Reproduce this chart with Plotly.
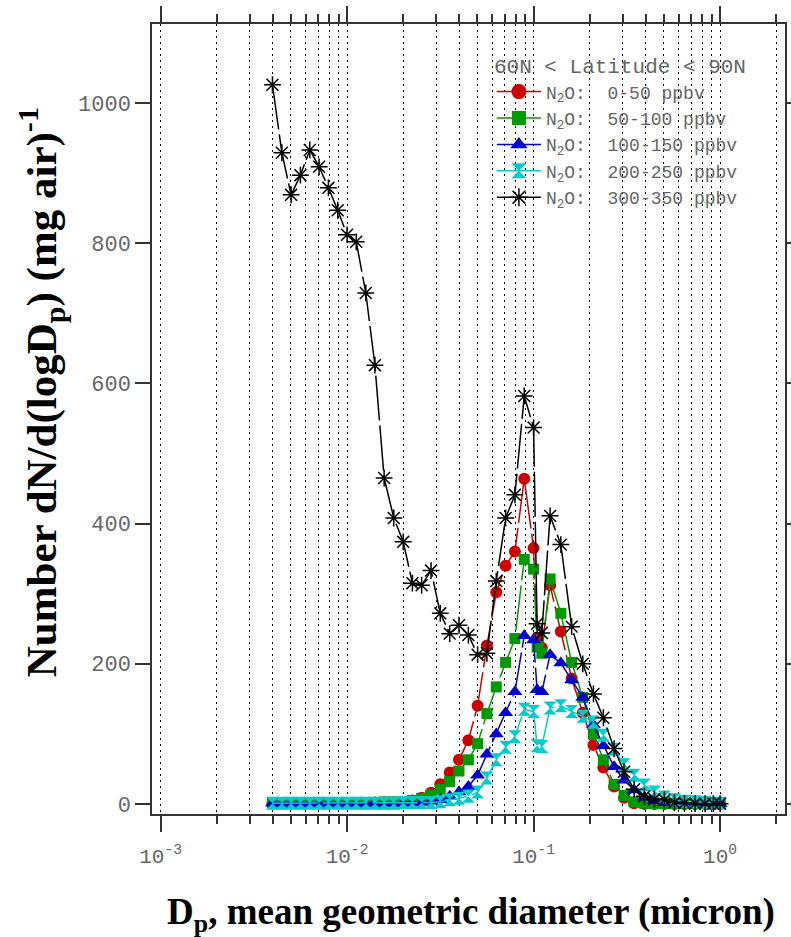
import plotly.graph_objects as go

# ---------------- data ----------------
diameter = [0.00398, 0.00447, 0.00501, 0.00562, 0.00631, 0.00708, 0.00794, 0.00891,
            0.0100, 0.0112, 0.0126, 0.0141, 0.0158, 0.0178, 0.0200, 0.0224, 0.0251,
            0.0282, 0.0316, 0.0355, 0.0398, 0.0447, 0.0501, 0.0562, 0.0631, 0.0708,
            0.0794, 0.0891, 0.100,
            0.1044, 0.1107, 0.1226, 0.140, 0.160, 0.1835, 0.2094, 0.2367, 0.2702,
            0.3056, 0.3459, 0.3926, 0.4443, 0.5026, 0.569, 0.644, 0.7345, 0.831,
            0.920, 1.0]

n2o_0_50 = [1, 1, 1, 1, 1, 1, 1, 1, 1, 1, 1, 2, 2, 2, 3, 5, 9, 16, 28, 45, 63, 91,
            140, 226, 302, 340, 360, 464, 365,
            237, 223, 312, 246, 179, 130, 84, 52, 25, 9, 1, 0, 0, 0, 0, 0, 0, 0, 0, 0]

n2o_50_100 = [2, 2, 2, 2, 2, 2, 2, 2, 2, 2, 2, 2, 3, 3, 3, 5, 8, 13, 21, 32, 47, 63,
              86, 129, 167, 202, 236, 349, 335,
              224, 215, 321, 272, 202, 152, 100, 63, 28, 12, 3, 1, 0.5, 0.5, 0.5,
              0.5, 0.5, 0.5, 0.5, 0.5]

n2o_100_150 = [1, 1, 1, 1, 1, 1, 1, 1, 1, 1, 1, 1, 1, 1, 1, 1, 2, 4, 6, 11, 17, 25,
               41, 71, 100, 130, 160, 240, 234,
               163, 160, 213, 201, 177, 152, 113, 83, 53, 34, 20, 9.5, 4.7, 2, 1,
               0.5, 0.5, 0.5, 0.5, 0.5]

n2o_200_250 = [1, 1, 1, 1, 1, 1, 1, 1, 1, 1, 1, 1, 1, 1, 2, 2, 2, 2, 3, 6, 8, 11,
               17, 37, 63, 81, 96, 135, 132,
               83, 82, 137, 140, 132, 125, 117, 98, 78, 56, 41, 27, 17, 10, 6, 4,
               3, 2, 1, 1]

n2o_300_350 = [1026, 929, 869, 897, 933, 909, 879, 847, 812, 802, 729, 626, 465, 408,
               374, 315, 312, 333, 272, 243, 255, 241, 213, 215, 318, 408, 441, 582,
               537,
               257, 244, 411, 370, 253, 200, 157, 123, 79, 46, 21, 11, 7, 6, 2, 1,
               0.5, 0.5, 0.5, 0.5]

series_labels = ["N<sub>2</sub>O:  0-50 ppbv", "N<sub>2</sub>O:  50-100 ppbv",
                 "N<sub>2</sub>O:  100-150 ppbv", "N<sub>2</sub>O:  200-250 ppbv",
                 "N<sub>2</sub>O:  300-350 ppbv"]
series_values = [n2o_0_50, n2o_50_100, n2o_100_150, n2o_200_250, n2o_300_350]

x_major_ticks = [0.001, 0.01, 0.1, 1]
x_major_text = ["10<sup>-3</sup>", "10<sup>-2</sup>", "10<sup>-1</sup>", "10<sup>0</sup>"]
x_minor_ticks = [m * d for d in (0.001, 0.01, 0.1, 1) for m in range(2, 10) if m * d < 2.2]
y_ticks = [0, 200, 400, 600, 800, 1000]
legend_title = "60N &lt; Latitude &lt; 90N"
x_title = "D<sub>p</sub>, mean geometric diameter (micron)"
y_title = ("&nbsp;&nbsp;&nbsp;&nbsp;&nbsp;Number dN/d(logD<sub>p</sub>) "
           "(mg air)<sup>-1</sup>")

# ---------------- styles ----------------
colors = ["#CC0000", "#009900", "#0000CC", "#00CCCC", "#000000"]
symbols = ["circle", "square", "triangle-up", "hourglass", "asterisk-open"]
sizes = [12, 11, 13, 13, 14]
legend_sizes = [15, 14, 15, 15, 15]
MONO = "Liberation Mono"
SERIF = "Liberation Serif"
AXC = "#333333"
TXT = "#666666"

fig = go.Figure()
for lab, vals, c, s, sz, lsz in zip(series_labels, series_values, colors, symbols,
                                    sizes, legend_sizes):
    def mk(size):
        m = dict(symbol=s, size=size, color=c)
        if s == "asterisk-open":
            m["line"] = dict(color=c, width=1.5)
        else:
            m["line"] = dict(width=0)
        return m
    fig.add_trace(go.Scatter(
        x=diameter, y=vals, mode="lines+markers", showlegend=False,
        line=dict(color=c, width=1.5, dash="45px,5px"), marker=mk(sz)))
    # legend entry (solid line)
    fig.add_trace(go.Scatter(
        x=[None], y=[None], mode="lines+markers", name=lab, showlegend=True,
        line=dict(color=c, width=1.5), marker=mk(lsz)))

grid_dash = "2px,4px"
fig.update_layout(
    width=791, height=937,
    margin=dict(l=152, r=6, t=24, b=123, pad=0),
    paper_bgcolor="white", plot_bgcolor="white",
    showlegend=True,
    legend=dict(
        x=0.537, y=0.972, xanchor="left", yanchor="top",
        bgcolor="rgba(0,0,0,0)", borderwidth=0,
        font=dict(family=MONO, size=18, color=TXT),
        title=dict(text=legend_title, font=dict(family=MONO, size=21, color=TXT)),
        itemwidth=44, tracegroupgap=0,
    ),
    xaxis=dict(
        type="log", range=[-3.046, 0.348], automargin=False,
        tickvals=x_major_ticks, ticktext=x_major_text,
        ticks="outside", ticklen=16, tickwidth=1.5, tickcolor=AXC,
        ticklabelstandoff=6,
        showline=True, linecolor=AXC, linewidth=1.5, mirror="ticks",
        showgrid=True, gridcolor="#000000", gridwidth=1, griddash=grid_dash,
        zeroline=False,
        minor=dict(tickvals=x_minor_ticks, ticks="outside", ticklen=8, tickwidth=1.5,
                   tickcolor=AXC, showgrid=True, gridcolor="#000000", gridwidth=1,
                   griddash=grid_dash),
        tickfont=dict(family=MONO, size=21, color=TXT),
    ),
    yaxis=dict(
        range=[-14.3, 1112.7], tickvals=y_ticks, automargin=False,
        ticks="outside", ticklen=15, tickwidth=1.5, tickcolor=AXC,
        showline=True, linecolor=AXC, linewidth=1.5, mirror="ticks",
        showgrid=False, zeroline=False,
        tickfont=dict(family=MONO, size=22, color=TXT),
        title=dict(text=y_title,
                   font=dict(family=SERIF, size=43, color="black", weight="bold"),
                   standoff=8),
    ),
    annotations=[dict(
        text=x_title, xref="paper", yref="paper", x=0.504, y=-0.127,
        xanchor="center", yanchor="middle", showarrow=False,
        font=dict(family=SERIF, size=37, color="black", weight="bold"),
    )],
)

fig.write_html("out.html")
